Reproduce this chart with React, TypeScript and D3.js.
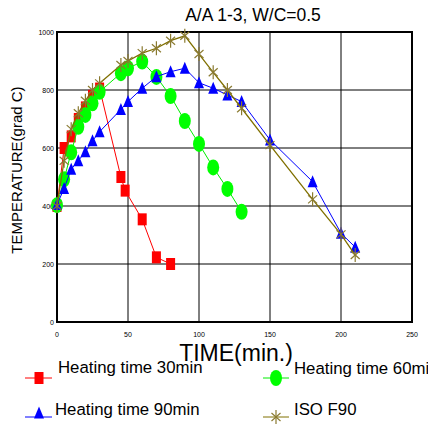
import React from "react";
import * as d3 from "d3";

const xTicks = [0, 50, 100, 150, 200, 250];
const yTicks = [0, 200, 400, 600, 800, 1000];

const heat30T = [0, 5, 10, 15, 20, 25, 30, 45, 48, 60, 70, 80];
const heat30V = [400, 600, 640, 700, 740, 780, 805, 500, 453, 354, 223, 200];

const heat60T = [0, 5, 10, 15, 20, 25, 30, 45, 50, 60, 70, 80, 90, 100, 110, 120, 130];
const heat60V = [403, 492, 585, 673, 714, 754, 794, 858, 875, 898, 845, 779, 693, 614, 533, 459, 380];

const heat90T = [0, 5, 10, 15, 20, 25, 30, 45, 50, 60, 70, 80, 90, 100, 110, 120, 130, 150, 180, 200, 210];
const heat90V = [405, 460, 527, 556, 587, 625, 656, 733, 760, 806, 846, 863, 875, 825, 806, 783, 760, 628, 484, 306, 258];

const isoT = [0, 5, 10, 15, 20, 25, 30, 45, 50, 60, 70, 80, 90, 100, 110, 120, 130, 150, 180, 200, 210];
const isoV = [400, 556, 665, 720, 763, 800, 823, 886, 900, 927, 944, 970, 987, 924, 861, 800, 737, 610, 423, 302, 231];

const FONT = "'Liberation Sans', Arial, sans-serif";

const x = d3.scaleLinear().domain([0, 250]).range([57, 412]);
const y = d3.scaleLinear().domain([0, 1000]).range([322, 32]);

function pts(t: number[], v: number[]) {
  return t.map((d, i) => [x(d), y(v[i])] as [number, number]);
}

const line = d3.line<[number, number]>();

function Square({ cx, cy }: { cx: number; cy: number }) {
  return <rect x={cx - 4.5} y={cy - 6} width={9} height={12} fill="#ff0000" />;
}
function Ellipse({ cx, cy }: { cx: number; cy: number }) {
  return <ellipse cx={cx} cy={cy} rx={6} ry={8} fill="#00ff00" />;
}
function Tri({ cx, cy }: { cx: number; cy: number }) {
  return <path d={`M${cx},${cy - 6.5}L${cx + 5},${cy + 5.5}L${cx - 5},${cy + 5.5}Z`} fill="#0000ff" />;
}
function Star({ cx, cy }: { cx: number; cy: number }) {
  const c = "#8a7a30";
  return (
    <g stroke={c} strokeWidth={1.2}>
      <line x1={cx} y1={cy - 7} x2={cx} y2={cy + 7} />
      <line x1={cx - 4.5} y1={cy - 4} x2={cx + 4.5} y2={cy + 4} />
      <line x1={cx - 4.5} y1={cy + 4} x2={cx + 4.5} y2={cy - 4} />
    </g>
  );
}

export default function App() {
  const p30 = pts(heat30T, heat30V);
  const p60 = pts(heat60T, heat60V);
  const p90 = pts(heat90T, heat90V);
  const pIso = pts(isoT, isoV);
  return (
    <svg width={428} height={427} style={{ position: "absolute", left: 0, top: 0, background: "#fff" }} fontFamily={FONT}>
      <rect width={428} height={427} fill="#fff" />
      <text x={253} y={21} textAnchor="middle" fontSize={17.5}>A/A 1-3, W/C=0.5</text>
      {/* grid */}
      {xTicks.slice(1, -1).map((t) => (
        <line key={"gx" + t} x1={x(t)} x2={x(t)} y1={32} y2={322} stroke="#000" strokeWidth={1} />
      ))}
      {yTicks.slice(1, -1).map((t) => (
        <line key={"gy" + t} x1={57} x2={412} y1={y(t)} y2={y(t)} stroke="#000" strokeWidth={1} />
      ))}
      <rect x={57} y={32} width={355} height={290} fill="none" stroke="#000" strokeWidth={2} />
      {/* tick labels */}
      {yTicks.map((t) => (
        <text key={"yt" + t} x={54} y={y(t) + 2.5} textAnchor="end" fontSize={7}>{t}</text>
      ))}
      {xTicks.map((t) => (
        <text key={"xt" + t} x={x(t)} y={337} textAnchor="middle" fontSize={7}>{t}</text>
      ))}
      <text x={236} y={361} textAnchor="middle" fontSize={23}>TIME(min.)</text>
      <text transform="translate(22,170) rotate(-90)" textAnchor="middle" fontSize={15}>TEMPERATURE(grad C)</text>
      {/* series */}
      <path d={line(p30) || ""} fill="none" stroke="#ff0000" strokeWidth={1} />
      {p30.map((p, i) => <Square key={"s" + i} cx={p[0]} cy={p[1]} />)}
      <path d={line(p60) || ""} fill="none" stroke="#00ee00" strokeWidth={1} />
      {p60.map((p, i) => <Ellipse key={"e" + i} cx={p[0]} cy={p[1]} />)}
      <path d={line(p90) || ""} fill="none" stroke="#0000ff" strokeWidth={1} />
      {p90.map((p, i) => <Tri key={"t" + i} cx={p[0]} cy={p[1]} />)}
      <path d={line(pIso) || ""} fill="none" stroke="#807000" strokeWidth={1.3} />
      {pIso.map((p, i) => <Star key={"a" + i} cx={p[0]} cy={p[1]} />)}
      {/* legend */}
      <line x1={25} x2={52} y1={378} y2={378} stroke="#ff0000" />
      <Square cx={39} cy={378} />
      <text x={58} y={373} fontSize={16.8}>Heating time 30min</text>
      <line x1={263} x2={289} y1={378} y2={378} stroke="#00ee00" />
      <Ellipse cx={276} cy={378} />
      <text x={294} y={374} fontSize={16.8}>Heating time 60min</text>
      <line x1={25} x2={52} y1={417} y2={417} stroke="#0000ff" />
      <Tri cx={39} cy={413} />
      <text x={55} y={415} fontSize={16.8}>Heating time 90min</text>
      <line x1={263} x2={289} y1={417} y2={417} stroke="#807000" />
      <Star cx={276} cy={417} />
      <text x={294} y={415} fontSize={16.8}>ISO F90</text>
    </svg>
  );
}
